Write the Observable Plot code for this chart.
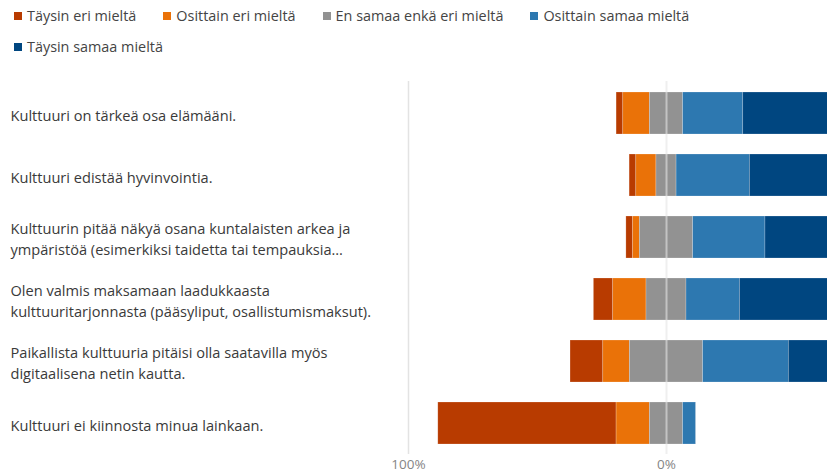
<!DOCTYPE html>
<html>
<head>
<meta charset="utf-8">
<script src="https://cdn.jsdelivr.net/npm/d3@7"></script>
<script src="https://cdn.jsdelivr.net/npm/@observablehq/plot@0.6"></script>
<style>
  html, body { margin: 0; padding: 0; background: #fff; overflow: hidden; }
  body { width: 827px; height: 476px; font-family: "Open Sans", "Noto Sans", sans-serif; }
  #legend { height: 62px; box-sizing: border-box; padding-left: 14px; display: flex; flex-wrap: wrap; column-gap: 27px; align-content: flex-start; width: 827px; }
  .item { display: flex; align-items: center; height: 31px; font-size: 14.4px; color: #444; }
  .sw { width: 8px; height: 8px; margin-right: 5px; flex: none; }
</style>
</head>
<body>
<div id="legend"></div>
<div id="chart"></div>
<script>
const categories = [
  "Kulttuuri on tärkeä osa elämääni.",
  "Kulttuuri edistää hyvinvointia.",
  "Kulttuurin pitää näkyä osana kuntalaisten arkea ja\nympäristöä (esimerkiksi taidetta tai tempauksia…",
  "Olen valmis maksamaan laadukkaasta\nkulttuuritarjonnasta (pääsyliput, osallistumismaksut).",
  "Paikallista kulttuuria pitäisi olla saatavilla myös\ndigitaalisena netin kautta.",
  "Kulttuuri ei kiinnosta minua lainkaan."
];
const series = ["Täysin eri mieltä", "Osittain eri mieltä", "En samaa enkä eri mieltä", "Osittain samaa mieltä", "Täysin samaa mieltä"];
const colors = ["#B83B00", "#EA7208", "#929292", "#2D78B0", "#004680"];

// percentages per category, in series order
const taysinEri   = [2.6, 2.6, 2.6, 7.5, 12.7, 69.1];
const osittainEri = [10.3, 7.8, 2.6, 12.9, 10.3, 12.9];
const neutraali   = [12.9, 7.8, 20.7, 15.5, 28.4, 12.9];
const osittainSam = [23.3, 28.4, 28.0, 20.7, 33.2, 5.0];
const taysinSam   = [50.9, 53.4, 46.1, 43.4, 15.4, 0.1];

const xTicks = [-100, 0];
const xTickLabels = ["100%", "0%"];

const valuesBySeries = [taysinEri, osittainEri, neutraali, osittainSam, taysinSam];

// build diverging segments: neutral centered on zero
const segments = [];
categories.forEach((cat, i) => {
  let start = -(taysinEri[i] + osittainEri[i] + neutraali[i] / 2);
  valuesBySeries.forEach((vals, s) => {
    const v = vals[i];
    segments.push({category: cat, series: series[s], x1: start, x2: start + v});
    start += v;
  });
});

// legend
const legend = document.getElementById("legend");
series.forEach((s, i) => {
  const it = document.createElement("div");
  it.className = "item";
  it.innerHTML = `<span class="sw" style="background:${colors[i]}"></span><span>${s}</span>`;
  legend.appendChild(it);
});

const chart = Plot.plot({
  width: 827,
  height: 414,
  marginLeft: 408,
  marginRight: 0,
  marginTop: 19,
  marginBottom: 22,
  style: {fontFamily: "'Open Sans', 'Noto Sans', sans-serif", background: "#fff"},
  x: {domain: [-100, 62.4], axis: null},
  y: {domain: categories, paddingInner: 0.33, paddingOuter: 0.165, axis: null},
  color: {domain: series, range: colors},
  marks: [
    Plot.ruleX([-100], {stroke: "#e3e3e3", strokeWidth: 1.5}),
    Plot.ruleY([0], {frameAnchor: "bottom", stroke: "#e6e6e6", strokeWidth: 1.5}),
    Plot.barX(segments, {
      x1: "x1", x2: "x2", y: "category", fill: "series",
      stroke: "#ffffff", strokeOpacity: 0.35, strokeWidth: 0.6, clip: true
    }),
    Plot.ruleX([0], {stroke: "#e4e4e4", strokeOpacity: 0.6, strokeWidth: 2}),
    Plot.text(categories, {
      y: d => d, text: d => d, frameAnchor: "left", textAnchor: "start",
      dx: -398, dy: 0, fontSize: 14.6, fill: "#3a3a3a", lineHeight: 1.5
    }),
    Plot.text(xTicks, {
      x: d => d, text: (d, i) => xTickLabels[i], frameAnchor: "bottom",
      dy: 14, fontSize: 13.5, fill: "#858585"
    })
  ]
});
document.getElementById("chart").appendChild(chart);
</script>
</body>
</html>
